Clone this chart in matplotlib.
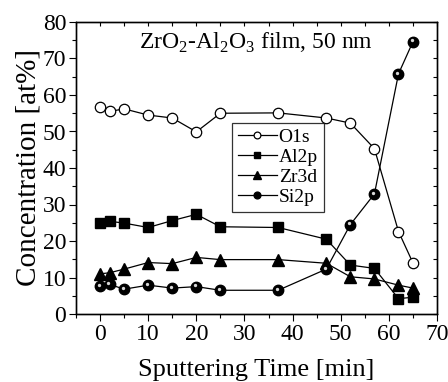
import matplotlib

matplotlib.use("Agg")
import matplotlib.pyplot as plt
from matplotlib.ticker import MultipleLocator
from matplotlib.transforms import ScaledTranslation

plt.rcParams["font.family"] = ["Liberation Serif", "DejaVu Serif"]
plt.rcParams["mathtext.fontset"] = "custom"
plt.rcParams["mathtext.rm"] = "Liberation Serif"

time_min = [0, 2, 5, 10, 15, 20, 25, 37, 47, 52, 57, 62, 65]
o1s = [56.8, 55.5, 56.2, 54.5, 53.7, 49.9, 55.0, 55.1, 53.7, 52.3, 45.3, 22.6, 14.0]
al2p = [25.0, 25.4, 24.9, 23.7, 25.6, 27.3, 23.9, 23.7, 20.5, 13.4, 12.5, 4.2, 4.6]
zr3d = [11.0, 11.3, 12.3, 14.1, 13.8, 15.5, 14.9, 14.9, 13.9, 10.2, 9.6, 7.9, 7.1]
si2p = [7.7, 8.1, 6.8, 7.9, 7.1, 7.5, 6.5, 6.5, 12.3, 24.5, 32.9, 65.8, 74.6]

fig = plt.figure(figsize=(4.48, 3.82), dpi=100)
ax = fig.add_axes([76 / 448, 1 - 314 / 382, 361 / 448, 292 / 382])

lw = 0.9
ax.plot(time_min, o1s, "-o", color="black", lw=lw, ms=7.5, mfc="white", mew=0.9, label="O1s")
ax.plot(time_min, al2p, "-s", color="black", lw=lw, ms=7, label="Al2p")
ax.plot(time_min, zr3d, "-^", color="black", lw=lw, ms=8, label="Zr3d")
ax.plot(time_min, si2p, "-o", color="black", lw=lw, ms=7.5, label="Si2p")
# small highlight so the spheres look shaded
shift = ax.transData + ScaledTranslation(-1.3 / 100, 1.3 / 100, fig.dpi_scale_trans)
ax.plot(time_min, si2p, "o", color="white", ms=2.4, mew=0, alpha=0.85, transform=shift)

ax.set_xlim(-5, 70)
ax.set_ylim(0, 80)
ax.xaxis.set_major_locator(MultipleLocator(10))
ax.xaxis.set_minor_locator(MultipleLocator(5))
ax.yaxis.set_major_locator(MultipleLocator(10))
ax.yaxis.set_minor_locator(MultipleLocator(5))

ax.tick_params(axis="both", which="major", labelsize=17, length=5, width=0.8, pad=2)
ax.tick_params(axis="both", which="minor", length=3, width=0.8)
ax.tick_params(axis="both", which="both", direction="out", top=False, right=False)

# Origin-style inward ticks on top and right
ax_top = ax.twiny()
ax_top.set_xlim(ax.get_xlim())
ax_top.xaxis.set_major_locator(MultipleLocator(5))
ax_top.tick_params(axis="x", direction="in", length=3, width=0.8, labeltop=False)
ax_right = ax.twinx()
ax_right.set_ylim(ax.get_ylim())
ax_right.yaxis.set_major_locator(MultipleLocator(5))
ax_right.tick_params(axis="y", direction="in", length=3, width=0.8, labelright=False)

for a in (ax, ax_top, ax_right):
    for s in a.spines.values():
        s.set_linewidth(0.9)

ax.set_xlabel("Sputtering Time [min]", fontsize=19, labelpad=10)
ax.set_ylabel("Concentration [at%]", fontsize=21, labelpad=1)

ax.text(0.5, 0.93, r"ZrO$_2$-Al$_2$O$_3$ film, 50 nm", transform=ax.transAxes,
        ha="center", va="center", fontsize=17)

leg = ax.legend(loc="upper left", bbox_to_anchor=(0.432, 0.655), fontsize=14,
                frameon=True, fancybox=False, edgecolor="black", handlelength=2.0,
                handletextpad=0.1, borderpad=0.3, labelspacing=0.12, markerscale=0.65,
                borderaxespad=0)
leg.get_frame().set_linewidth(0.9)

fig.savefig("out.png", dpi=100)
